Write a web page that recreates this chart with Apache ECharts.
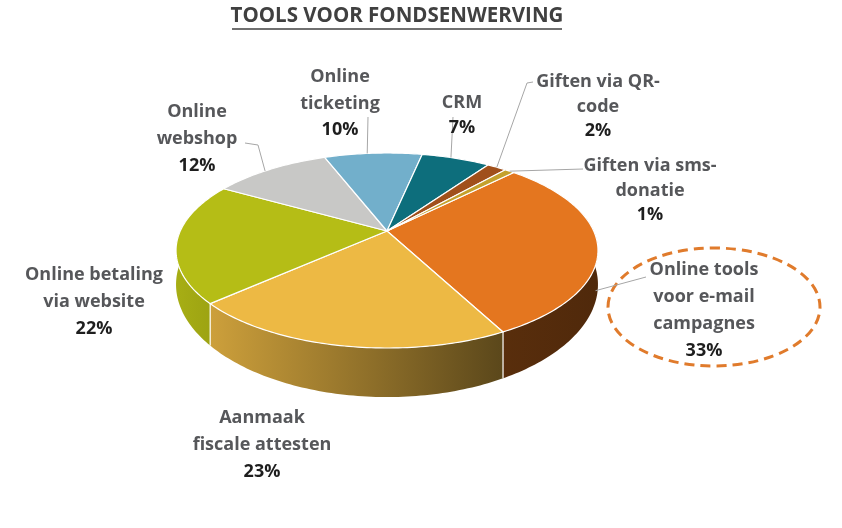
<!DOCTYPE html>
<html>
<head>
    <meta charset="utf-8">
    <title>Tools voor fondsenwerving</title>
    <script src="https://cdn.jsdelivr.net/npm/echarts@6/dist/echarts.min.js"></script>
    <style>
        html, body { margin: 0; padding: 0; background: #fff; }
        #chart1 { width: 842px; height: 528px; }
    </style>
</head>
<body>
<div id="chart1"></div>
<script type="text/javascript">
    // gegevens uit de grafiek (percentages zoals in de labels)
    var categories = ['Online tools voor e-mail campagnes', 'Aanmaak fiscale attesten', 'Online betaling via website',
        'Online webshop', 'Online ticketing', 'CRM', 'Giften via QR-code', 'Giften via sms-donatie'];
    var values = [33, 23, 22, 12, 10, 7, 2, 1];
    var labelText = ['Online tools\nvoor e-mail\ncampagnes', 'Aanmaak\nfiscale attesten', 'Online betaling\nvia website',
        'Online\nwebshop', 'Online\nticketing', 'CRM', 'Giften via QR-\ncode', 'Giften via sms-\ndonatie'];

    var colors = ['#E4761F', '#EDB944', '#B5BD16', '#C8C8C6', '#72AFCB', '#0D6E7C', '#A0501B', '#C4A12C'];

    // 3D-taart: projectie van de cirkel
    var CX = 387, CY = 231, A = 206.7, B = 93.6, K = 0.2, H = 31.4;
    var START = 44.5;
    var FONT = '"Open Sans", Lato, sans-serif';

    // labelposities (midden van eerste regel) en aanhaallijnen
    var labelLayout = [
        {x: 704, y: 270, lh: 27, path: [[646, 277]], da: 11.5, depth: 0.7},
        {x: 262, y: 418, lh: 27},
        {x: 94, y: 275, lh: 27},
        {x: 197, y: 112, lh: 27, path: [[245, 143], [258, 145]], da: -2},
        {x: 340, y: 77, lh: 26.5, path: [[368, 117]], da: -2},
        {x: 462, y: 103, lh: 25, path: [[453, 117]], da: -1.7},
        {x: 598, y: 82, lh: 24.5, path: [[533, 82], [527, 83]], da: 0},
        {x: 650, y: 166, lh: 24.5, path: [[583, 169]], da: 0}
    ];

    var total = values.reduce(function (s, v) { return s + v; }, 0);
    var startAngles = [], sweeps = [];
    var acc = 0;
    values.forEach(function (v) {
        startAngles.push(START + acc / total * 360);
        sweeps.push(v / total * 360);
        acc += v;
    });

    function proj(theta, depth) {
        var r = theta * Math.PI / 180;
        var u = Math.sin(r), v = -Math.cos(r);
        var w = 1 - K * v;
        return [CX + A * u / w, CY + B * v / w + (depth || 0) * H / (w * w)];
    }

    function shade(hex, f) {
        var n = parseInt(hex.slice(1), 16);
        var r = Math.round(((n >> 16) & 255) * f), g = Math.round(((n >> 8) & 255) * f), b = Math.round((n & 255) * f);
        return 'rgb(' + r + ',' + g + ',' + b + ')';
    }

    function renderItem(params, api) {
        var i = params.dataIndex;
        var a0 = startAngles[i], a1 = a0 + sweeps[i];
        var children = [];
        var t;

        // bovenvlak
        var top = [[CX, CY]];
        for (t = a0; t < a1; t += 1) top.push(proj(t, 0));
        top.push(proj(a1, 0));
        children.push({
            type: 'polygon', z2: 5,
            shape: {points: top},
            style: {fill: colors[i], stroke: '#ffffff', lineWidth: 1.2, lineJoin: 'round'}
        });

        // zijwand (alleen voorkant)
        var s0 = Math.max(a0, 80), s1 = Math.min(a1, 280);
        if (s1 > s0) {
            var upper = [], lower = [];
            for (t = s0; t < s1; t += 1) { upper.push(proj(t, 0)); lower.push(proj(t, 1)); }
            upper.push(proj(s1, 0)); lower.push(proj(s1, 1));
            var c = colors[i];
            children.push({
                type: 'polygon', z2: 1,
                shape: {points: upper.concat(lower.reverse())},
                style: {
                    fill: {
                        type: 'linear', x: 176, y: 0, x2: 597, y2: 0, global: true,
                        colorStops: [
                            {offset: 0, color: shade(c, 0.92)},
                            {offset: 0.77, color: shade(c, 0.39)},
                            {offset: 1, color: shade(c, 0.35)}
                        ]
                    }
                }
            });
            if (a0 >= 90 && a0 <= 270) {
                var p0 = proj(a0, 0), p1 = proj(a0, 1);
                children.push({
                    type: 'line', z2: 2,
                    shape: {x1: p0[0], y1: p0[1], x2: p1[0], y2: p1[1]},
                    style: {stroke: '#ffffff', lineWidth: 1.2}
                });
            }
        }

        // label
        var lay = labelLayout[i];
        var nLines = labelText[i].split('\n').length;
        children.push({
            type: 'text', z2: 10, x: lay.x, y: lay.y - lay.lh / 2,
            style: {
                text: labelText[i], align: 'center', verticalAlign: 'top',
                fontFamily: FONT, fontSize: 18, fontWeight: 'bold', lineHeight: lay.lh, fill: '#56575A'
            }
        });
        children.push({
            type: 'text', z2: 10, x: lay.x, y: lay.y - lay.lh / 2 + nLines * lay.lh,
            style: {
                text: api.value(0) + '%', align: 'center', verticalAlign: 'top',
                fontFamily: FONT, fontSize: 18, fontWeight: 'bold', lineHeight: lay.lh, fill: '#1E1E1E'
            }
        });
        if (lay.path) {
            var anchor = proj(a0 + sweeps[i] / 2 + (lay.da || 0), lay.depth || 0);
            children.push({
                type: 'polyline', z2: 9,
                shape: {points: lay.path.concat([anchor])},
                style: {fill: 'none', stroke: '#A6A6A6', lineWidth: 1}
            });
        }

        return {type: 'group', children: children};
    }

    var myChart1 = echarts.init(document.getElementById('chart1'));
    myChart1.setOption({
        animation: false,
        graphic: [
            {
                type: 'text', x: 397, y: 16,
                style: {
                    text: 'TOOLS VOOR FONDSENWERVING', align: 'center', verticalAlign: 'middle',
                    fontFamily: FONT, fontSize: 20.5, fontWeight: 'bold', fill: '#404040'
                }
            },
            {
                type: 'line', shape: {x1: 232, y1: 29, x2: 562, y2: 29},
                style: {stroke: '#404040', lineWidth: 1.5}
            },
            {
                type: 'ellipse', shape: {cx: 714, cy: 307, rx: 106, ry: 59},
                style: {fill: 'none', stroke: '#E07B2C', lineWidth: 3, lineDash: [10, 6]}
            }
        ],
        series: [{
            type: 'custom',
            name: 'Tools voor fondsenwerving',
            coordinateSystem: 'none',
            renderItem: renderItem,
            data: values.map(function (v, i) { return {name: categories[i], value: [v]}; })
        }]
    });
</script>
</body>
</html>
